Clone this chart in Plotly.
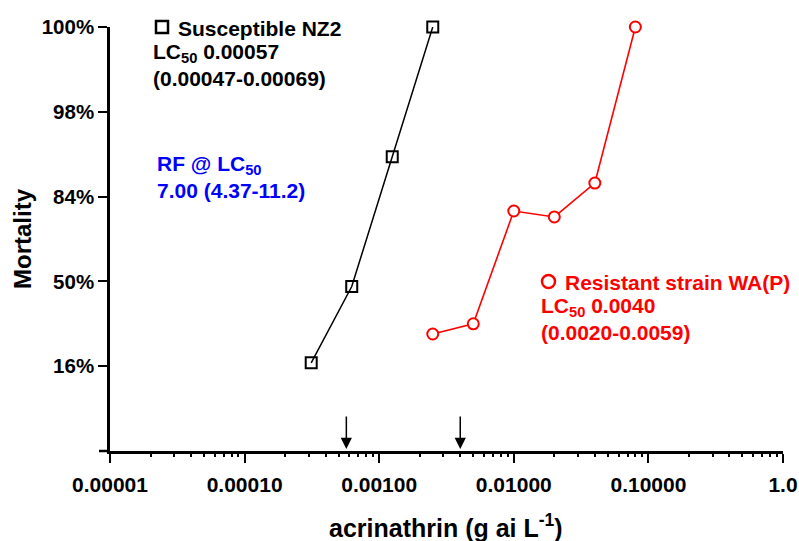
import numpy as np
import plotly.graph_objects as go

# Concentrations (g ai per litre) and mortality in probit units (normal equivalent deviates)
nz2_conc = [0.0003125, 0.000625, 0.00125, 0.0025]
nz2_probit = [-0.96, -0.06, 1.47, 3.0]

wap_conc = [0.0025, 0.005, 0.01, 0.02, 0.04, 0.08]
wap_probit = [-0.62, -0.50, 0.83, 0.76, 1.16, 3.0]

# LC50 estimates marked with arrows on the x axis
lc50_values = [0.00057, 0.0040]

y_tickvals = [-1, 0, 1, 2, 3]
y_ticktext = ["16%", "50%", "84%", "98%", "100%"]

# Minor log ticks at 2..9 within each decade of the x range
decades = [-5, -4, -3, -2, -1]
minor_tickvals = [k * 10.0 ** e for e in decades for k in range(2, 10)]

FONT = "Liberation Sans, Arial, Helvetica, sans-serif"
RED = "#ff0000"
BLUE = "#0000ff"

W, H = 799, 541
ML, MR, MT, MB = 110, 16, 27, 90
PW, PH = W - ML - MR, H - MT - MB


def px(x):
    """Horizontal pixel position -> paper fraction."""
    return (x - ML) / PW


def py(y):
    """Vertical pixel position -> paper fraction."""
    return (H - MB - y) / PH


fig = go.Figure()

fig.add_trace(go.Scatter(
    x=nz2_conc, y=nz2_probit, mode="lines+markers",
    line=dict(color="black", width=1.5),
    marker=dict(symbol="square-open", size=11, color="black", line=dict(width=2)),
    cliponaxis=False, showlegend=False,
))
fig.add_trace(go.Scatter(
    x=wap_conc, y=wap_probit, mode="lines+markers",
    line=dict(color=RED, width=1.6),
    marker=dict(symbol="circle", size=11, color="white", line=dict(width=2, color=RED)),
    cliponaxis=False, showlegend=False,
))
# Empty trace that carries the minor-tick axis
fig.add_trace(go.Scatter(x=[None], y=[None], xaxis="x2", yaxis="y",
                         showlegend=False, hoverinfo="skip"))

# Arrows pointing down at each LC50
for v in lc50_values:
    fig.add_annotation(
        x=np.log10(v), y=-2, xref="x", yref="y",
        ax=0, ay=-36, axref="pixel", ayref="pixel",
        showarrow=True, arrowhead=2, arrowsize=1.5, arrowwidth=1.5,
        arrowcolor="black", standoff=2, text="",
    )

text_font = dict(family=FONT, size=21, weight="bold")

# Key symbols next to the series names
fig.add_shape(type="rect", xref="paper", yref="paper",
              x0=px(156), x1=px(168), y0=py(33), y1=py(21),
              line=dict(color="black", width=2.5), fillcolor="white")
fig.add_shape(type="circle", xref="paper", yref="paper",
              x0=px(542), x1=px(555), y0=py(288), y1=py(275),
              line=dict(color=RED, width=2.5), fillcolor="white")

fig.add_annotation(
    xref="paper", yref="paper", x=px(176), y=py(28), xanchor="left", yanchor="middle",
    align="left", showarrow=False, text="Susceptible NZ2",
    font=dict(text_font, color="black"),
)
fig.add_annotation(
    xref="paper", yref="paper", x=px(151), y=py(65), xanchor="left", yanchor="middle",
    align="left", showarrow=False,
    text="LC<sub>50</sub> 0.00057<br>(0.00047-0.00069)",
    font=dict(text_font, color="black"),
)
fig.add_annotation(
    xref="paper", yref="paper", x=px(155), y=py(177), xanchor="left", yanchor="middle",
    align="left", showarrow=False,
    text="RF @ LC<sub>50</sub><br>7.00 (4.37-11.2)",
    font=dict(text_font, color=BLUE),
)
fig.add_annotation(
    xref="paper", yref="paper", x=px(563), y=py(282), xanchor="left", yanchor="middle",
    align="left", showarrow=False, text="Resistant strain WA(P)",
    font=dict(text_font, color=RED),
)
fig.add_annotation(
    xref="paper", yref="paper", x=px(539), y=py(319), xanchor="left", yanchor="middle",
    align="left", showarrow=False,
    text="LC<sub>50</sub> 0.0040<br>(0.0020-0.0059)",
    font=dict(text_font, color=RED),
)

# Axis titles
fig.add_annotation(
    xref="paper", yref="paper", x=px(446), y=py(526), xanchor="center", yanchor="middle",
    showarrow=False, text="acrinathrin (g ai L<sup>-1</sup>)",
    font=dict(family=FONT, size=25, color="black", weight="bold"),
)
fig.add_annotation(
    xref="paper", yref="paper", x=px(22), y=py(239), xanchor="center", yanchor="middle",
    showarrow=False, text="Mortality", textangle=-90,
    font=dict(family=FONT, size=24, color="black", weight="bold"),
)

# Short stub of the x axis line to the left of the y axis
fig.add_shape(type="line", xref="paper", yref="paper", x0=px(99), x1=0, y0=0, y1=0,
              line=dict(color="black", width=2.5))

fig.update_layout(
    xaxis=dict(
        type="log", range=[-5, 0], automargin=False,
        tickmode="linear", tick0=0, dtick=1, tickformat=".5f",
        labelalias={"1.00000": "1.0"},
        ticks="outside", ticklen=9, tickwidth=2, tickcolor="black",
        ticklabelstandoff=4,
        showline=True, linecolor="black", linewidth=2.5,
        showgrid=False, zeroline=False,
        tickfont=dict(family=FONT, size=21, color="black", weight="bold"),
    ),
    xaxis2=dict(
        type="log", range=[-5, 0], automargin=False,
        overlaying="x", anchor="y", side="bottom",
        tickmode="array", tickvals=minor_tickvals,
        ticks="outside", ticklen=5, tickwidth=1.5, tickcolor="black",
        showticklabels=False, showline=False, showgrid=False, zeroline=False,
    ),
    yaxis=dict(
        range=[-2, 3], automargin=False,
        tickvals=y_tickvals, ticktext=y_ticktext,
        ticks="outside", ticklen=9, tickwidth=2, tickcolor="black",
        showline=True, linecolor="black", linewidth=2.5,
        showgrid=False, zeroline=False,
        tickfont=dict(family=FONT, size=20.5, color="black", weight="bold"),
    ),
    width=W, height=H,
    margin=dict(l=ML, r=MR, t=MT, b=MB),
    paper_bgcolor="white", plot_bgcolor="white",
)

fig.write_html("out.html")
